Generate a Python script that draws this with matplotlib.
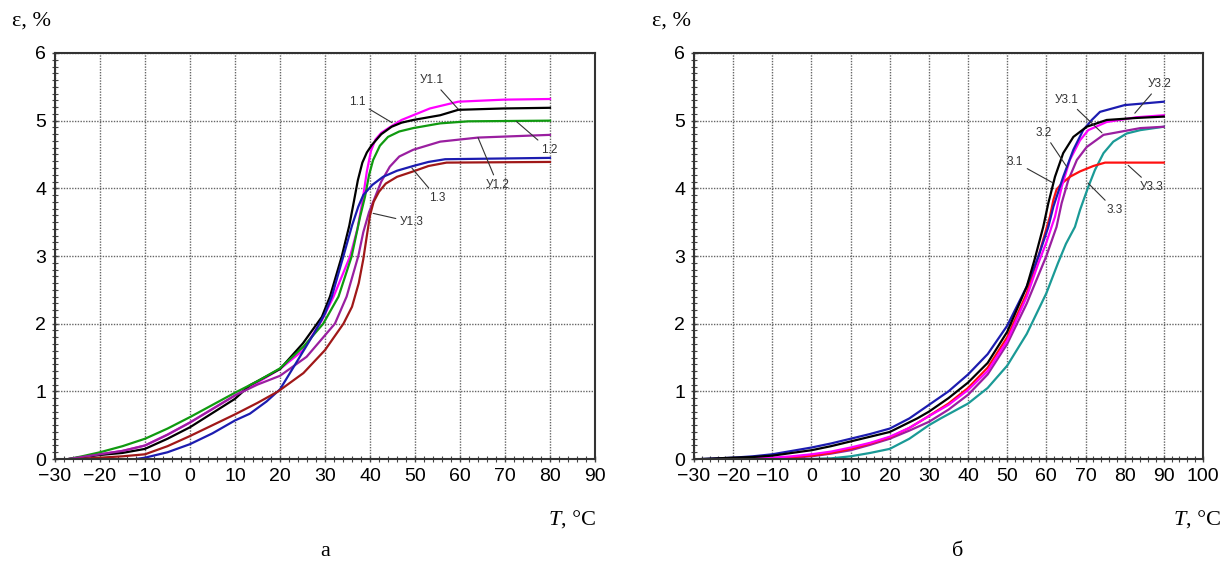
import matplotlib
matplotlib.use("Agg")
import matplotlib.pyplot as plt
from matplotlib.ticker import MultipleLocator

# ---------------- data: panel а ----------------
T_m11 = [-27, -24, -20, -15, -10, -5, 0, 5, 10, 15, 20, 25, 29.3, 31.9, 35.6, 37.2, 38.3, 39.3, 40.2, 41.2, 42.5, 44.8, 47, 49.6, 53.3, 59.6, 69.6, 80]
e_m11 = [0, 0.03, 0.07, 0.12, 0.2, 0.36, 0.54, 0.74, 0.94, 1.13, 1.33, 1.6, 2.05, 2.4, 3.0, 3.4, 3.8, 4.25, 4.55, 4.72, 4.82, 4.92, 5.01, 5.08, 5.18, 5.28, 5.31, 5.32]
T_y11 = [-27, -20, -15, -10, -5, 0, 5, 10, 13.3, 20, 25.1, 29.3, 31.1, 33.7, 35.4, 36.4, 37.3, 38.3, 39.3, 40.4, 42.5, 44.8, 47, 49.6, 55.6, 59.6, 69.6, 80]
e_y11 = [0, 0.06, 0.09, 0.15, 0.3, 0.47, 0.68, 0.89, 1.09, 1.33, 1.71, 2.1, 2.4, 2.99, 3.45, 3.8, 4.12, 4.38, 4.53, 4.64, 4.8, 4.91, 4.97, 5.01, 5.08, 5.16, 5.18, 5.19]
T_12 = [-27, -24, -20, -15, -10, -5, 0, 5, 10, 15, 20, 25.2, 29.6, 33, 35.9, 37.8, 38.9, 39.8, 40.7, 42.2, 44, 46.5, 49.6, 55.6, 61.8, 80]
e_12 = [0, 0.04, 0.1, 0.19, 0.3, 0.45, 0.62, 0.8, 0.98, 1.15, 1.34, 1.66, 2.0, 2.4, 2.99, 3.58, 3.88, 4.2, 4.42, 4.63, 4.76, 4.84, 4.89, 4.96, 4.99, 5.0]
T_y12 = [-27, -24, -20, -15, -10, -5, 0, 5, 10, 15, 20, 25.9, 32.2, 34.8, 37.4, 38.5, 39.8, 41, 42.5, 44.4, 46.5, 49.6, 55.6, 64, 80]
e_y12 = [0, 0.03, 0.07, 0.12, 0.2, 0.36, 0.54, 0.74, 0.94, 1.1, 1.23, 1.51, 2.0, 2.4, 3.0, 3.35, 3.65, 3.85, 4.1, 4.32, 4.47, 4.57, 4.69, 4.75, 4.79]
T_13 = [-12, -10, -5, 0, 5, 10, 13.3, 17, 20, 24.4, 27.5, 30, 31.5, 34.1, 36.0, 37.4, 38.5, 40.5, 42.9, 46, 49.6, 53, 56.7, 80]
e_13 = [0, 0.02, 0.1, 0.22, 0.38, 0.57, 0.67, 0.85, 1.03, 1.51, 1.85, 2.15, 2.4, 3.0, 3.45, 3.73, 3.9, 4.05, 4.17, 4.26, 4.33, 4.39, 4.43, 4.45]
T_y13 = [-25, -20, -15, -10, -5, 0, 5, 10, 15, 19.6, 25.2, 30, 34.1, 36, 37.5, 38.5, 39.3, 40.0, 40.8, 42, 43.5, 46, 49.6, 53, 57, 80]
e_y13 = [0, 0.02, 0.04, 0.07, 0.19, 0.34, 0.5, 0.66, 0.83, 1.0, 1.27, 1.61, 2.0, 2.25, 2.6, 2.95, 3.3, 3.6, 3.8, 3.95, 4.07, 4.17, 4.25, 4.33, 4.38, 4.39]

# ---------------- data: panel б ----------------
T_31 = [-28, -20, -15, -10, -5, 0, 5, 10, 15, 20, 27, 30, 35, 40, 45, 50, 55, 57, 59.2, 60.5, 62.2, 64.3, 66.9, 70.3, 75.4, 83, 90]
e_31 = [0, 0.02, 0.03, 0.05, 0.09, 0.13, 0.19, 0.26, 0.33, 0.4, 0.6, 0.7, 0.9, 1.13, 1.42, 1.88, 2.55, 2.95, 3.43, 3.78, 4.17, 4.52, 4.76, 4.91, 5.01, 5.04, 5.06]
T_32 = [-28, -20, -15, -10, -5, 0, 5, 10, 15, 20, 25, 30, 35, 40, 45, 50, 55, 58, 60.5, 61.8, 64.3, 66.9, 69.4, 71.6, 73.7, 80, 90]
e_32 = [0, 0.02, 0.04, 0.07, 0.12, 0.17, 0.23, 0.3, 0.37, 0.45, 0.6, 0.8, 1.0, 1.25, 1.55, 1.97, 2.55, 3.0, 3.43, 3.73, 4.17, 4.57, 4.86, 5.01, 5.13, 5.23, 5.28]
T_y32 = [-25, -10, -5, 0, 5, 10, 15, 20, 25, 29, 35, 40, 45, 50, 55, 58, 60, 62.2, 63.9, 66, 68.6, 70.7, 75.4, 83, 90]
e_y32 = [0, 0.02, 0.04, 0.07, 0.11, 0.17, 0.24, 0.33, 0.46, 0.6, 0.8, 1.02, 1.3, 1.75, 2.4, 2.9, 3.2, 3.58, 4.02, 4.42, 4.71, 4.86, 4.98, 5.05, 5.08]
T_y33 = [-25, -10, -5, 0, 5, 10, 15, 20, 25, 29, 35, 40, 45, 50, 55, 58, 60.9, 61.8, 62.6, 63.9, 66, 68.6, 72, 75, 90]
e_y33 = [0, 0.01, 0.03, 0.05, 0.09, 0.15, 0.23, 0.32, 0.46, 0.6, 0.82, 1.05, 1.35, 1.8, 2.45, 3.0, 3.58, 3.83, 3.98, 4.07, 4.17, 4.25, 4.33, 4.38, 4.38]
T_y31 = [-20, -10, -5, 0, 5, 10, 15, 20, 25, 30, 35, 40, 45, 50, 55, 60, 62.6, 63.9, 65.6, 67.8, 70.3, 74.6, 84, 90]
e_y31 = [0, 0.01, 0.02, 0.04, 0.08, 0.13, 0.21, 0.3, 0.42, 0.55, 0.73, 0.95, 1.25, 1.7, 2.3, 3.0, 3.43, 3.78, 4.12, 4.42, 4.61, 4.79, 4.89, 4.91]
T_33 = [0, 5, 10, 15, 20, 25, 30, 33, 40, 45, 50, 55, 60, 63, 65, 67.3, 68.6, 70.7, 72.4, 74.6, 77.1, 80.5, 84, 90]
e_33 = [0, 0.01, 0.04, 0.09, 0.15, 0.3, 0.5, 0.6, 0.82, 1.05, 1.38, 1.85, 2.45, 2.9, 3.18, 3.43, 3.68, 4.02, 4.27, 4.52, 4.69, 4.81, 4.86, 4.91]

series_a = [
    (T_m11, e_m11, "#ff00ff"),
    (T_y11, e_y11, "#000000"),
    (T_12, e_12, "#109a10"),
    (T_y12, e_y12, "#9a1fa0"),
    (T_13, e_13, "#1c1cb0"),
    (T_y13, e_y13, "#a01818"),
]
series_b = [
    (T_33, e_33, "#1a9a96"),
    (T_y31, e_y31, "#9a1fa0"),
    (T_y33, e_y33, "#ff1010"),
    (T_y32, e_y32, "#ff00ff"),
    (T_32, e_32, "#1c1cb0"),
    (T_31, e_31, "#000000"),
]

# label text, text position, arrow target (layout)
labels_a = [
    ("У1.1", (53.8, 5.60), (59.6, 5.17)),
    ("1.1", (37.1, 5.28), (44.9, 4.97)),
    ("1.2", (79.8, 4.57), (72.5, 4.99)),
    ("У1.2", (68.4, 4.05), (64.0, 4.75)),
    ("1.3", (54.9, 3.86), (49.3, 4.30)),
    ("У1.3", (49.3, 3.50), (40.7, 3.63)),
]
labels_b = [
    ("У3.2", (89.0, 5.54), (82.6, 5.11)),
    ("У3.1", (65.3, 5.31), (74.2, 4.82)),
    ("3.2", (59.4, 4.82), (65.3, 4.31)),
    ("3.1", (52.0, 4.39), (61.7, 4.08)),
    ("3.3", (77.5, 3.68), (70.6, 4.08)),
    ("У3.3", (87.0, 4.02), (80.9, 4.34)),
]

fig = plt.figure(figsize=(12.23, 5.66), dpi=100)
ax1 = fig.add_axes([0.0450, 0.1890, 0.4415, 0.7174])
ax2 = fig.add_axes([0.5675, 0.1890, 0.4161, 0.7174])


def style(ax, xmax):
    ax.set_xlim(-30, xmax)
    ax.set_ylim(0, 6)
    ax.xaxis.set_major_locator(MultipleLocator(10))
    ax.xaxis.set_minor_locator(MultipleLocator(2))
    ax.yaxis.set_major_locator(MultipleLocator(1))
    ax.yaxis.set_minor_locator(MultipleLocator(0.1))
    ax.grid(True, which="major", linestyle=(0, (1, 1)), color="#666666", linewidth=1.0)
    ax.tick_params(which="both", direction="inout", color="#444444")
    ax.tick_params(which="major", length=5, width=1.0, labelsize=14, pad=4)
    ax.tick_params(which="minor", length=4, width=0.8)
    for lab in ax.get_xticklabels() + ax.get_yticklabels():
        lab.set_family("Liberation Sans")
    for sp in ax.spines.values():
        sp.set_color("#333333")
        sp.set_linewidth(1.5)


for ax, series, labels, xmax in ((ax1, series_a, labels_a, 90), (ax2, series_b, labels_b, 100)):
    style(ax, xmax)
    for T, e, c in series:
        ax.plot(T, e, color=c, linewidth=1.6, solid_joinstyle="round")
    for txt, pos, tgt in labels:
        ax.annotate(txt, xy=tgt, xytext=pos, ha="center", va="center",
                    fontsize=8.5, color="#333333", family="Liberation Sans",
                    arrowprops=dict(arrowstyle="-", color="#333333", lw=0.8,
                                    shrinkA=1, shrinkB=0))

serif = "Liberation Serif"
fig.text(0.010, 0.962, "ε, %", fontsize=16, family=serif, ha="left", va="center")
fig.text(0.533, 0.962, "ε, %", fontsize=16, family=serif, ha="left", va="center")
for xr in (0.487, 0.998):
    t = fig.text(xr, 0.080, ", °C", fontsize=16, family=serif, ha="right", va="center")
    fig.canvas.draw()
    bb = t.get_window_extent()
    fig.text(bb.x0 / fig.bbox.width, 0.080, "T", fontsize=16, family=serif,
             style="italic", ha="right", va="center")
fig.text(0.266, 0.025, "а", fontsize=16, family=serif, ha="center", va="center")
fig.text(0.783, 0.025, "б", fontsize=16, family=serif, ha="center", va="center")

fig.savefig("out.png", dpi=100, facecolor="white")
